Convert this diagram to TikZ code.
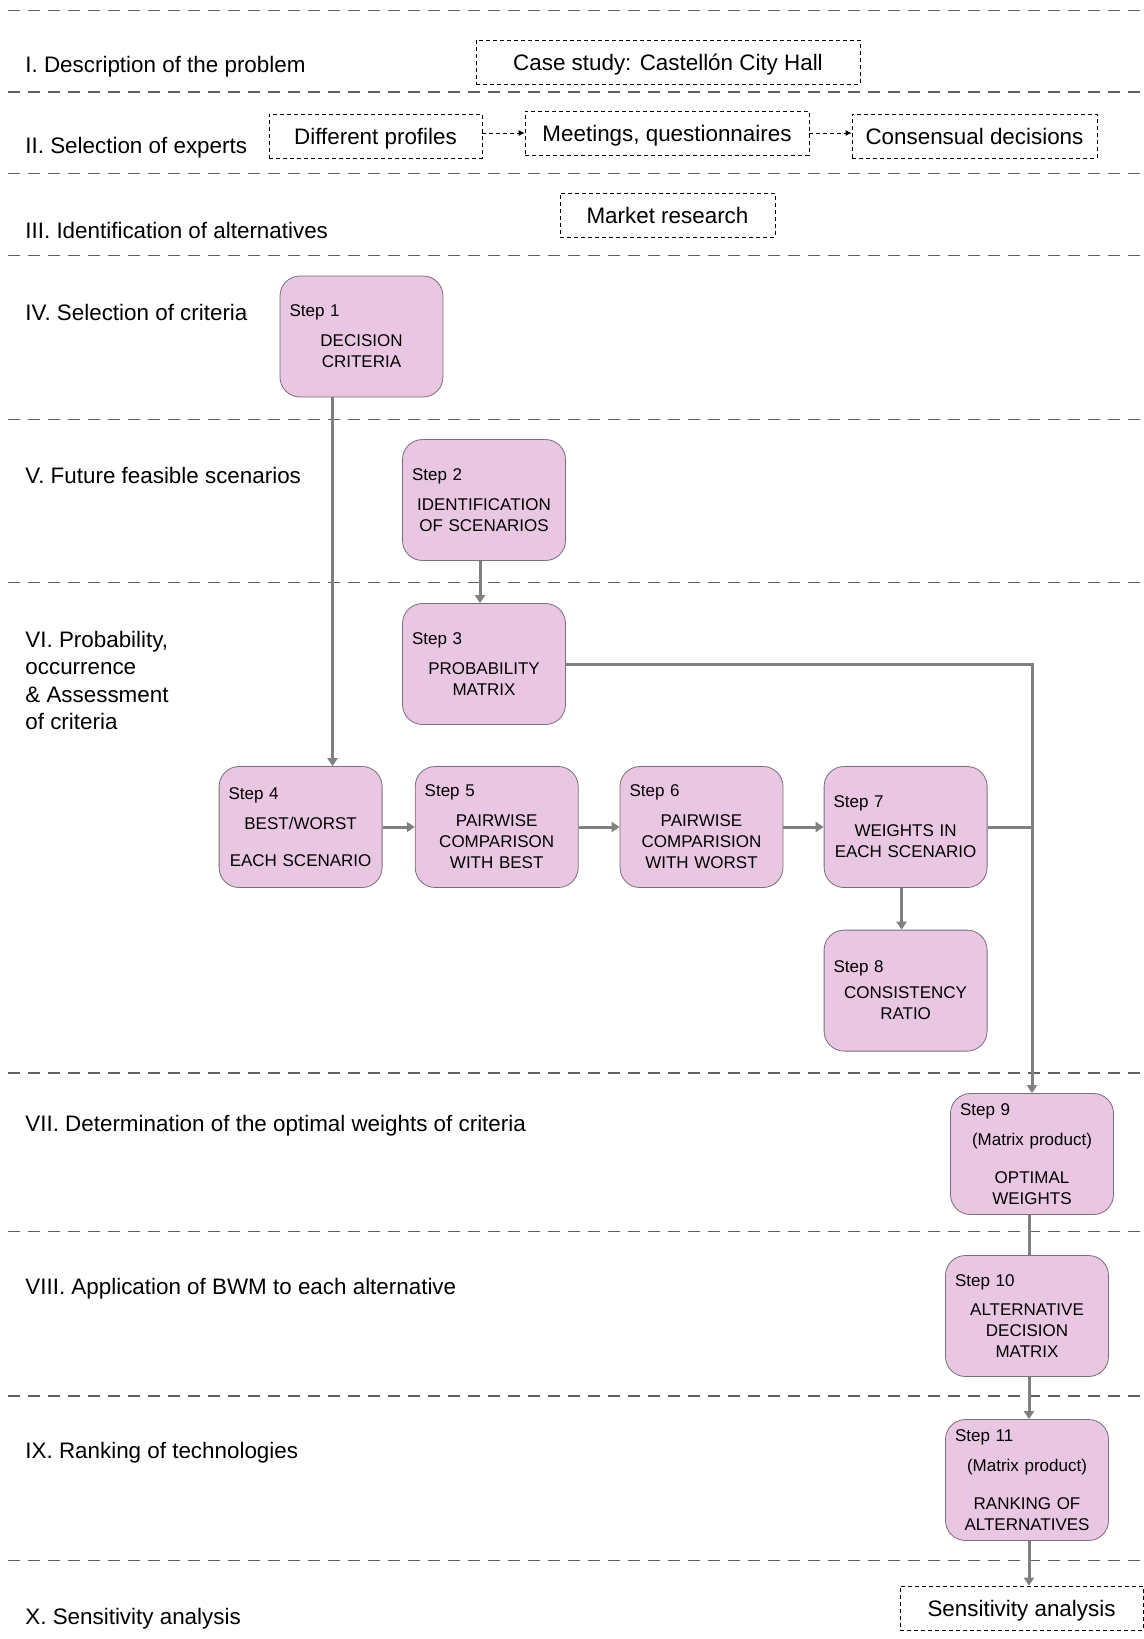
\documentclass[tikz,border=0pt]{standalone}
\usepackage{fontspec}
\setmainfont{Liberation Sans}
\usetikzlibrary{arrows.meta,positioning,calc}
\definecolor{stepfill}{RGB}{233,199,227}
\definecolor{stepline}{RGB}{120,110,118}
\definecolor{linkgray}{RGB}{128,128,128}
\newcommand{\stepno}[1]{\makebox[\hsize][l]{Step #1}}
\tikzset{
  phase/.style   ={anchor=west,align=left,inner sep=0pt,yshift=-1pt,font=\fontsize{11.2}{13.75}\selectfont},
  source/.style  ={draw,dash pattern=on 2pt off 1.5pt,align=center,minimum height=22pt,text height=10.5pt,text depth=2.5pt,
                   font=\fontsize{11.2}{13.5}\selectfont},
  stepbox/.style ={draw=stepline,fill=stepfill,rounded corners=10pt,align=center,text width=72pt,
                   minimum width=81.5pt,minimum height=60.5pt,inner sep=4.75pt,font=\fontsize{8.5}{10.5}\selectfont},
  sep/.style     ={draw=gray!75!black,dash pattern=on 6pt off 4pt,line width=0.6pt},
  link/.style    ={-{Triangle[length=4pt,width=5pt]},draw=linkgray,line width=1.5pt},
  plain/.style   ={draw=linkgray,line width=1.5pt},
  flow/.style    ={-{Latex[length=3pt,width=3pt]},dash pattern=on 2pt off 1.5pt,thin}
}
\begin{document}
\begin{tikzpicture}[x=0.5pt,y=-0.5pt]
  \useasboundingbox (0,0) rectangle (1144,1639);
  % phase separators
  \foreach \y in {10.5,92,173.6,255.2,419.3,582.5,1072.9,1231.8,1396,1560.2}
    \draw[sep] (8,\y) -- (1142,\y);
  % phases
  \node[phase] (ph1)  at (25,65)    {I. Description of the problem};
  \node[phase] (ph2)  at (25,146)   {II. Selection of experts};
  \node[phase] (ph3)  at (25,228)   {III. Identification of alternatives};
  \node[phase] (ph4)  at (25,310.6) {IV. Selection of criteria};
  \node[phase] (ph5)  at (25,473.7) {V. Future feasible scenarios};
  \node[phase] (ph6)  at (25,678.7) {VI. Probability,\\occurrence\\\& Assessment\\of criteria};
  \node[phase] (ph7)  at (25,1124)  {VII. Determination of the optimal weights of criteria};
  \node[phase] (ph8)  at (25,1287)  {VIII. Application of BWM to each alternative};
  \node[phase] (ph9)  at (25,1451)  {IX. Ranking of technologies};
  \node[phase] (ph10) at (25,1617)  {X. Sensitivity analysis};
  % inputs
  \node[source,minimum width=192pt]   (case)      at (668,62)     {Case study: Castell\'on City Hall};
  \node[source,minimum width=106.5pt] (profiles)  at (375.5,136)  {Different profiles};
  \node[source,minimum width=142pt]   (meetings)  at (667,133)    {Meetings, questionnaires};
  \node[source,minimum width=122.5pt] (consensus) at (974.5,136)  {Consensual decisions};
  \node[source,minimum width=107.5pt] (market)    at (667.5,215)  {Market research};
  \node[source,minimum width=121.5pt] (sens)      at (1021.5,1608){Sensitivity analysis};
  % steps
  \node[stepbox] (s1)  at (361.5,336.5) {\stepno{1}\\[4.5pt]DECISION\\CRITERIA};
  \node[stepbox] (s2)  at (484,500)     {\stepno{2}\\[4.5pt]IDENTIFICATION\\OF SCENARIOS};
  \node[stepbox] (s3)  at (484,664)     {\stepno{3}\\[4.5pt]PROBABILITY\\MATRIX};
  \node[stepbox] (s4)  at (300.6,827)   {\stepno{4}\\[4.5pt]BEST/WORST\\[7.8pt]EACH SCENARIO};
  \node[stepbox] (s5)  at (496.7,827)   {\stepno{5}\\[4.5pt]PAIRWISE\\COMPARISON\\WITH BEST};
  \node[stepbox] (s6)  at (701.5,827)   {\stepno{6}\\[4.5pt]PAIRWISE\\COMPARISION\\WITH WORST};
  \node[stepbox] (s7)  at (905.6,827)   {\stepno{7}\\[4pt]WEIGHTS IN\\EACH SCENARIO};
  \node[stepbox,below=20.9pt of s7] (s8) {\stepno{8}\\[2.5pt]CONSISTENCY\\RATIO};
  \node[stepbox] (s9)  at (1032,1154)   {\stepno{9}\\[4.5pt](Matrix product)\\[8.3pt]OPTIMAL\\WEIGHTS};
  \node[stepbox] (s10) at (1027,1316)   {\stepno{10}\\[4pt]ALTERNATIVE\\DECISION\\MATRIX};
  \node[stepbox] (s11) at (1027,1480)   {\stepno{11}\\[4.5pt](Matrix product)\\[8.3pt]RANKING OF\\ALTERNATIVES};
  % connectors
  \draw[flow] (profiles.east |- meetings.west) -- (meetings.west);
  \draw[flow] (meetings.east) -- (meetings.east -| consensus.west);
  \draw[link] ([xshift=-14.5pt]s1.south) -- ([xshift=-14.5pt]s1.south |- s4.north);
  \draw[link] ([xshift=-2pt]s2.south) -- ([xshift=-2pt]s3.north);
  \draw[link] (s3.east) -| (s9.north);
  \draw[link] (s4) -- (s5);
  \draw[link] (s5) -- (s6);
  \draw[link] (s6) -- (s7);
  \draw[plain] (s7.east) -- (s7.east -| s9.north);
  \draw[link] ([xshift=-2pt]s7.south) -- ([xshift=-2pt]s8.north);
  \draw[plain] ([xshift=-1.5pt]s9.south) -- ([xshift=-1.5pt]s9.south |- s10.north);
  \draw[link] ([xshift=1pt]s10.south) -- ([xshift=1pt]s11.north);
  \draw[link] ([xshift=1pt]s11.south) -- ([xshift=1pt]s11.south |- sens.north);
\end{tikzpicture}
\end{document}
